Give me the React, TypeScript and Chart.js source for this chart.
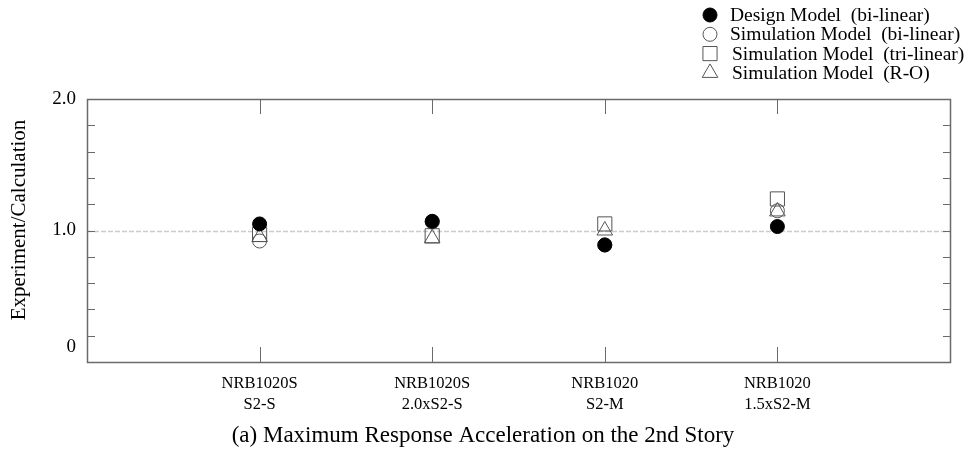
import React, { useEffect, useRef } from 'react';
import { Chart, registerables } from 'chart.js';
import { drawPoint } from 'chart.js/helpers';

Chart.register(...registerables);

// ---- data ----
const categories: string[][] = [
  ['NRB1020S', 'S2-S'],
  ['NRB1020S', '2.0xS2-S'],
  ['NRB1020', 'S2-M'],
  ['NRB1020', '1.5xS2-M'],
];
const categoryPositions = [1, 2, 3, 4];
const designBiLinear = [1.05, 1.07, 0.89, 1.03];
const simBiLinear = [0.92, 1.065, 0.89, 1.15];
const simTriLinear = [0.97, 0.96, 1.05, 1.24];
const simRO = [0.95, 0.94, 1.0, 1.145];
const seriesNames = [
  'Design Model  (bi-linear)',
  'Simulation Model  (bi-linear)',
  'Simulation Model  (tri-linear)',
  'Simulation Model  (R-O)',
];
const yTickLabels: [number, string][] = [
  [0, '0'],
  [1, '1.0'],
  [2, '2.0'],
];
const yAxisTitle = '    Experiment/Calculation';
const chartTitle = '(a) Maximum Response Acceleration on the 2nd Story';

const SERIF = "'Liberation Serif', 'Times New Roman', serif";
const AXIS_COLOR = '#6a6a6a';
const MARK_STROKE = '#555555';

const toPoints = (vals: number[]) => vals.map((v, i) => ({ x: categoryPositions[i], y: v }));

const framePlugin = {
  id: 'frame',
  beforeDatasetsDraw(chart: any) {
    const { ctx, chartArea, scales } = chart;
    const { left, right, top, bottom } = chartArea;
    const y = scales.y;
    const x = scales.x;
    ctx.save();
    // dashed reference line at 1.0
    const py1 = Math.round(y.getPixelForValue(1)) + 0.5;
    ctx.strokeStyle = '#cccccc';
    ctx.lineWidth = 1.5;
    ctx.setLineDash([5, 2]);
    ctx.beginPath();
    ctx.moveTo(left, py1);
    ctx.lineTo(right, py1);
    ctx.stroke();
    ctx.setLineDash([]);
    // inner ticks
    ctx.strokeStyle = AXIS_COLOR;
    ctx.lineWidth = 1;
    ctx.beginPath();
    y.ticks.forEach((t: any) => {
      if (t.value <= 0.001 || t.value >= 1.999) return;
      const py = Math.round(y.getPixelForValue(t.value)) + 0.5;
      ctx.moveTo(left, py);
      ctx.lineTo(left + 8, py);
      ctx.moveTo(right - 7, py);
      ctx.lineTo(right, py);
    });
    x.ticks.forEach((t: any) => {
      const px = Math.round(x.getPixelForValue(t.value)) + 0.5;
      ctx.moveTo(px, top);
      ctx.lineTo(px, top + 15);
      ctx.moveTo(px, bottom - 15);
      ctx.lineTo(px, bottom);
    });
    ctx.stroke();
    // frame
    ctx.lineWidth = 1.5;
    ctx.strokeRect(Math.round(left) + 0.5, Math.round(top) + 0.5, Math.round(right - left), Math.round(bottom - top));
    ctx.restore();
  },
};

const legendPlugin = {
  id: 'customLegend',
  afterDraw(chart: any) {
    const { ctx } = chart;
    ctx.save();
    chart.data.datasets.forEach((ds: any, i: number) => {
      const cy = 15 + i * 19.3;
      ctx.fillStyle = ds.backgroundColor;
      ctx.strokeStyle = ds.borderColor;
      ctx.lineWidth = ds.borderWidth;
      drawPoint(ctx, { pointStyle: ds.pointStyle, radius: ds.pointRadius, rotation: 0, borderWidth: ds.borderWidth }, 710, cy);
      ctx.fillStyle = '#000';
      ctx.font = `19.5px ${SERIF}`;
      ctx.textBaseline = 'middle';
      ctx.textAlign = 'left';
      ctx.fillText(ds.label, i < 2 ? 730 : 732, cy + 1);
    });
    ctx.restore();
  },
};

export default function App() {
  const canvasRef = useRef<HTMLCanvasElement | null>(null);

  useEffect(() => {
    document.body.style.margin = '0';
    const canvas = canvasRef.current;
    if (!canvas) return;
    const chart = new Chart(canvas, {
      type: 'scatter',
      data: {
        datasets: [
          {
            label: seriesNames[0],
            data: toPoints(designBiLinear),
            pointStyle: 'circle',
            pointRadius: 7,
            backgroundColor: '#000000',
            borderColor: '#000000',
            borderWidth: 1,
          },
          {
            label: seriesNames[1],
            data: toPoints(simBiLinear),
            pointStyle: 'circle',
            pointRadius: 7,
            backgroundColor: 'rgba(0,0,0,0)',
            borderColor: MARK_STROKE,
            borderWidth: 1,
          },
          {
            label: seriesNames[2],
            data: toPoints(simTriLinear),
            pointStyle: 'rect',
            pointRadius: 10,
            backgroundColor: 'rgba(0,0,0,0)',
            borderColor: MARK_STROKE,
            borderWidth: 1,
          },
          {
            label: seriesNames[3],
            data: toPoints(simRO),
            pointStyle: 'triangle',
            pointRadius: 9,
            backgroundColor: 'rgba(0,0,0,0)',
            borderColor: MARK_STROKE,
            borderWidth: 1,
          },
        ] as any,
      },
      options: {
        animation: false,
        responsive: false,
        devicePixelRatio: 1,
        layout: { padding: { top: 99, right: 20, bottom: 0, left: 16 } },
        plugins: {
          legend: { display: false },
          tooltip: { enabled: false },
          title: {
            display: true,
            text: chartTitle,
            position: 'bottom',
            color: '#000',
            font: { family: SERIF, size: 23, weight: 'normal' as any, lineHeight: 1.2 },
            padding: { top: 0, bottom: 6 },
          },
        },
        scales: {
          x: {
            type: 'linear',
            position: 'bottom',
            min: 0,
            max: 5,
            afterBuildTicks: (scale: any) => {
              scale.ticks = categoryPositions.map((v) => ({ value: v }));
            },
            afterFit: (scale: any) => {
              scale.height = 60.4;
            },
            grid: { display: false, drawTicks: false },
            border: { display: false },
            ticks: {
              autoSkip: false,
              maxRotation: 0,
              minRotation: 0,
              padding: 11.5,
              color: '#000',
              font: { family: SERIF, size: 16.5, lineHeight: 1.27 },
              callback: (v: any) => {
                const idx = categoryPositions.indexOf(Number(v));
                return idx >= 0 ? categories[idx] : '';
              },
            },
          },
          y: {
            type: 'linear',
            min: 0,
            max: 2,
            afterFit: (scale: any) => {
              scale.width = 71;
            },
            grid: { display: false, drawTicks: false },
            border: { display: false },
            ticks: {
              autoSkip: false,
              stepSize: 0.2,
              padding: 11,
              color: '#000',
              font: { family: SERIF, size: 19, lineHeight: 1.6 },
              callback: (v: any) => {
                const n = Number(v);
                const hit = yTickLabels.find(([val]) => Math.abs(val - n) < 1e-6);
                if (!hit) return '';
                return hit[0] === 0 ? [hit[1], ''] : hit[1];
              },
            },
            title: {
              display: true,
              text: yAxisTitle,
              color: '#000',
              font: { family: SERIF, size: 21 },
              padding: { top: -9, bottom: 0 },
            },
          },
        },
      },
      plugins: [framePlugin, legendPlugin],
    });
    return () => chart.destroy();
  }, []);

  return (
    <div style={{ width: 970, height: 456 }}>
      <canvas ref={canvasRef} width={970} height={456} style={{ display: 'block' }} />
    </div>
  );
}
